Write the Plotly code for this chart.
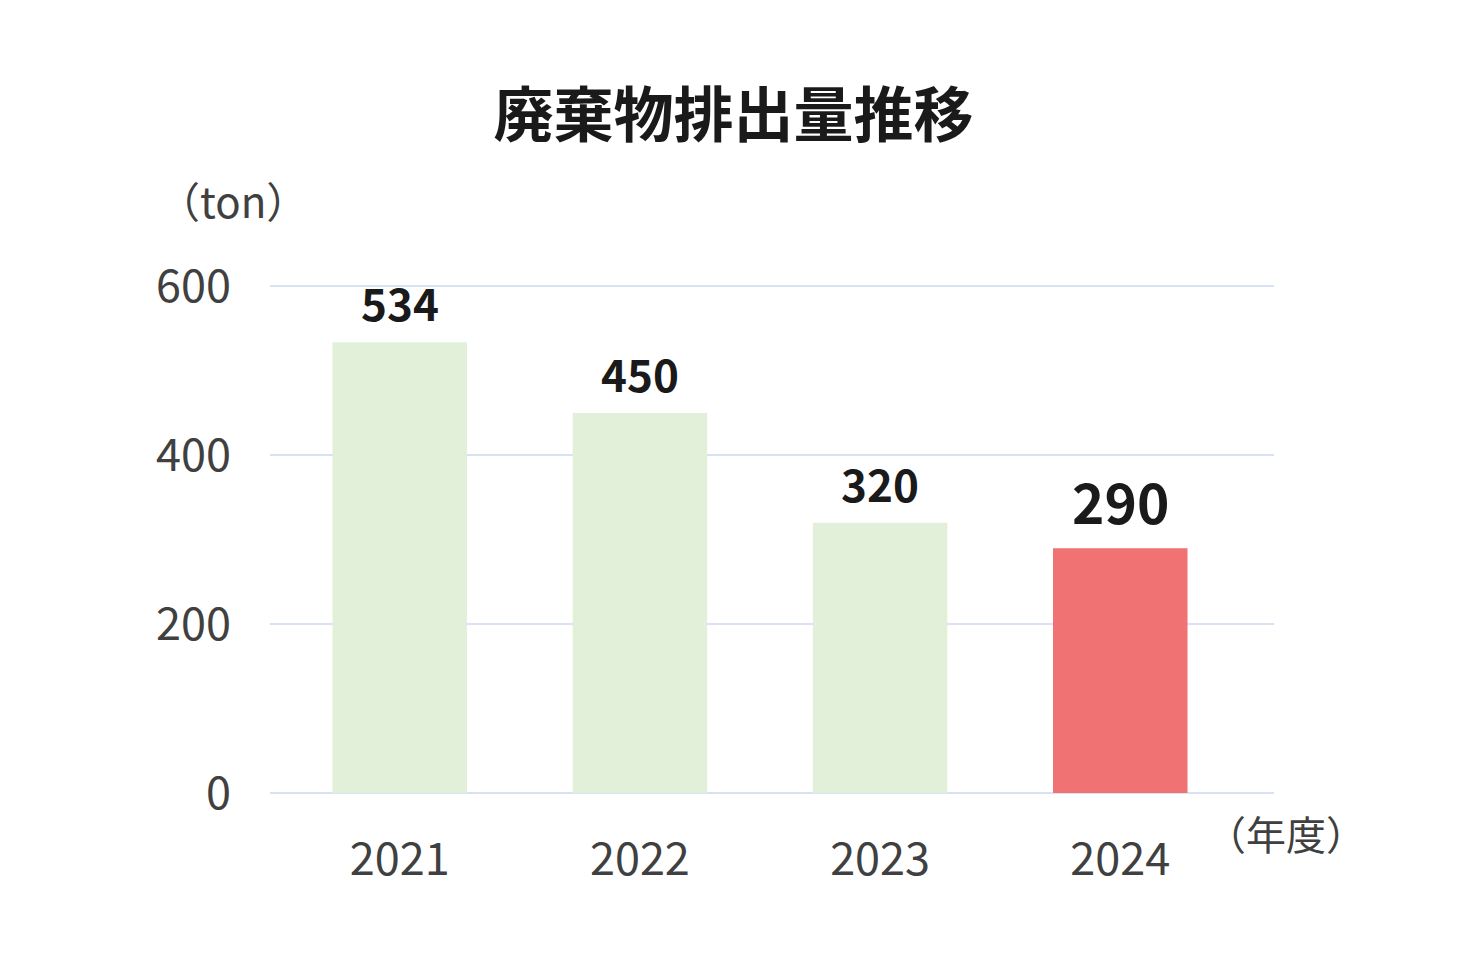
import plotly.graph_objects as go

# data
years = ["2021", "2022", "2023", "2024"]
waste_ton = [534, 450, 320, 290]
bar_colors = ["#e2efd9", "#e2efd9", "#e2efd9", "#f07272"]
label_sizes = [44, 44, 44, 55]
y_ticks = [0, 200, 400, 600]

FONT = "Noto Sans CJK JP"

fig = go.Figure()

fig.add_trace(go.Bar(
    x=years,
    y=waste_ton,
    marker=dict(color=bar_colors, line=dict(width=0)),
    width=0.56,
    hoverinfo="x+y",
    showlegend=False,
))

# value labels above bars
for i, (v, sz) in enumerate(zip(waste_ton, label_sizes)):
    fig.add_annotation(
        x=i, y=v, text="<b>%d</b>" % v,
        xref="x", yref="y",
        showarrow=False, yanchor="bottom", yshift=6,
        font=dict(family=FONT, size=sz, color="#1a1a1a"),
    )

# unit labels
fig.add_annotation(
    xref="paper", yref="paper", x=-0.037, y=1.152,
    text="（ton）", showarrow=False, xanchor="center", yanchor="middle",
    font=dict(family=FONT, size=42, color="#404040"),
)
fig.add_annotation(
    xref="paper", yref="paper", x=1.012, y=-0.078,
    text="（年度）", showarrow=False, xanchor="center", yanchor="middle",
    font=dict(family=FONT, size=40, color="#404040"),
)

fig.update_layout(
    title=dict(
        text="<b>廃棄物排出量推移</b>",
        x=0.4935, xanchor="center", y=0.888, yanchor="middle",
        font=dict(family=FONT, size=60, color="#1a1a1a"),
    ),
    width=1470, height=960,
    margin=dict(l=262, r=204, t=270, b=175),
    paper_bgcolor="white",
    plot_bgcolor="white",
    font=dict(family=FONT, color="#404040"),
)

fig.update_xaxes(
    type="category",
    range=[-0.54, 3.64],
    showgrid=False, showline=False, zeroline=False,
    ticks="", ticklabelstandoff=36,
    tickfont=dict(family=FONT, size=45, color="#404040"),
)
fig.update_yaxes(
    range=[0, 610],
    tickvals=y_ticks,
    showgrid=True, gridcolor="#d9e2f3", gridwidth=2,
    zeroline=True, zerolinecolor="#d9e2f3", zerolinewidth=2,
    showline=False, ticks="", ticklabelstandoff=38,
    tickfont=dict(family=FONT, size=45, color="#404040"),
)

fig.write_html("out.html")
